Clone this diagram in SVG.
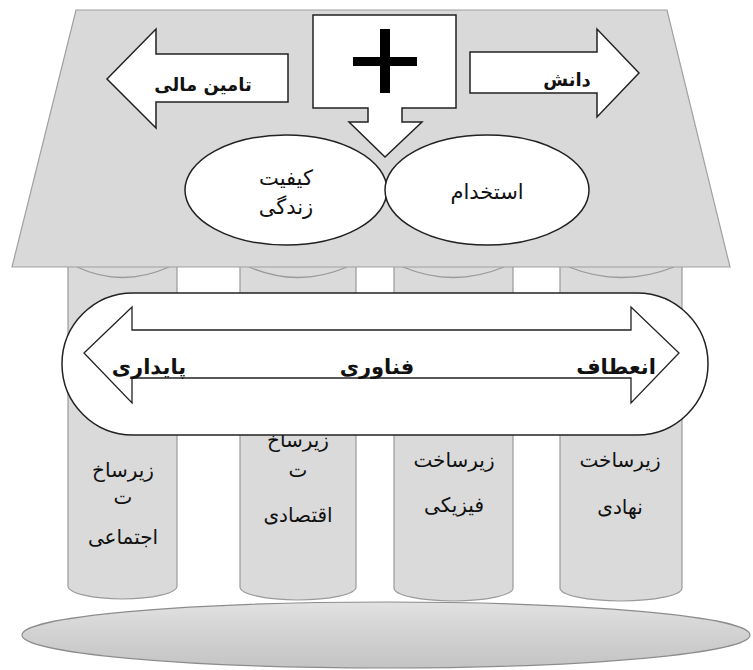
<svg xmlns="http://www.w3.org/2000/svg" width="753" height="670" viewBox="0 0 753 670">
<defs>
<style>
.col{fill:#dadada;stroke:#9a9a9a;stroke-width:1.2}
.arc{fill:none;stroke:#999;stroke-width:1.3}
.roof{fill:#d9d9d9;stroke:#a0a0a0;stroke-width:1.2}
.shape{fill:#fff;stroke:#222;stroke-width:1.5}
.t{font-family:"DejaVu Sans",sans-serif;font-size:20px;fill:#111;text-anchor:middle}
.e{font-family:"DejaVu Sans",sans-serif;font-size:21px;fill:#111;text-anchor:middle}
.b{font-family:"DejaVu Sans",sans-serif;font-size:18px;font-weight:bold;fill:#111;text-anchor:middle}
.m{font-family:"DejaVu Sans",sans-serif;font-size:21px;font-weight:bold;fill:#111;text-anchor:middle}
</style>
<linearGradient id="baseg" x1="0" y1="0" x2="0" y2="1">
<stop offset="0" stop-color="#e2e2e2"/>
<stop offset="0.4" stop-color="#d4d4d4"/>
<stop offset="1" stop-color="#c4c4c4"/>
</linearGradient>
</defs>
<rect width="753" height="670" fill="#fff"/>

<g id="base">
<ellipse cx="386" cy="635" rx="364" ry="33" fill="url(#baseg)" stroke="#8c8c8c" stroke-width="1.2"/>
</g>

<g id="col-social">
<path class="col" d="M68,250 V586 A54.5,13 0 0 0 177,586 V250 Z"/>
<path class="arc" d="M77,267 Q122,288 169,267"/>
<text class="t" x="123" y="477">زیرساخ</text>
<text class="t" x="123" y="504">ت</text>
<text class="t" x="123" y="544">اجتماعی</text>
</g>
<g id="col-economic">
<path class="col" d="M240,250 V587 A58,13 0 0 0 356,587 V250 Z"/>
<path class="arc" d="M249,267 Q298,288 347,267"/>
<text class="t" x="298" y="447">زیرساخ</text>
<text class="t" x="298" y="477">ت</text>
<text class="t" x="298" y="522">اقتصادی</text>
</g>
<g id="col-physical">
<path class="col" d="M394,250 V588 A59.5,13 0 0 0 513,588 V250 Z"/>
<path class="arc" d="M403,267 Q453,288 504,267"/>
<text class="t" x="454" y="467">زیرساخت</text>
<text class="t" x="454" y="512">فیزیکی</text>
</g>
<g id="col-institutional">
<path class="col" d="M560,250 V588 A61,13 0 0 0 682,588 V250 Z"/>
<path class="arc" d="M569,267 Q621,288 674,267"/>
<text class="t" x="620" y="467">زیرساخت</text>
<text class="t" x="620" y="514">نهادی</text>
</g>

<g id="roof">
<polygon class="roof" points="76,10 667,10 730,267 12,267"/>
</g>

<g id="plus">
<path class="shape" d="M313,15 H456 V108 H402 V122 H422 L385,157 L349,122 H368 V108 H313 Z"/>
<rect x="380" y="29" width="10" height="64" fill="#000"/>
<rect x="353" y="57" width="64" height="9" fill="#000"/>
</g>

<g id="finance">
<path class="shape" d="M107,79 L156,29 V54 H288 V102 H156 V128 Z"/>
<text class="b" x="203" y="91">تامین مالی</text>
</g>

<g id="knowledge">
<path class="shape" d="M639,73 L597,29 V52 H470 V93 H597 V117 Z"/>
<text class="b" x="567" y="86">دانش</text>
</g>

<g id="quality">
<ellipse class="shape" cx="286" cy="190" rx="101" ry="55"/>
<text class="e" x="286" y="185">کیفیت</text>
<text class="e" x="286" y="214">زندگی</text>
</g>

<g id="employment">
<ellipse class="shape" cx="487" cy="190" rx="102" ry="55"/>
<text class="e" x="487" y="199">استخدام</text>
</g>

<g id="technology">
<rect class="shape" x="62" y="293" width="646" height="142" rx="71" ry="71"/>
<path fill="#fff" stroke="#222" stroke-width="1.3" d="M84,353 L132,307 V330 H631 V307 L679,353 L631,403 V378 H132 V403 Z"/>
<text class="m" x="149" y="374">پایداری</text>
<text class="m" x="377" y="374">فناوری</text>
<text class="m" x="616" y="374">انعطاف</text>
</g>
</svg>
